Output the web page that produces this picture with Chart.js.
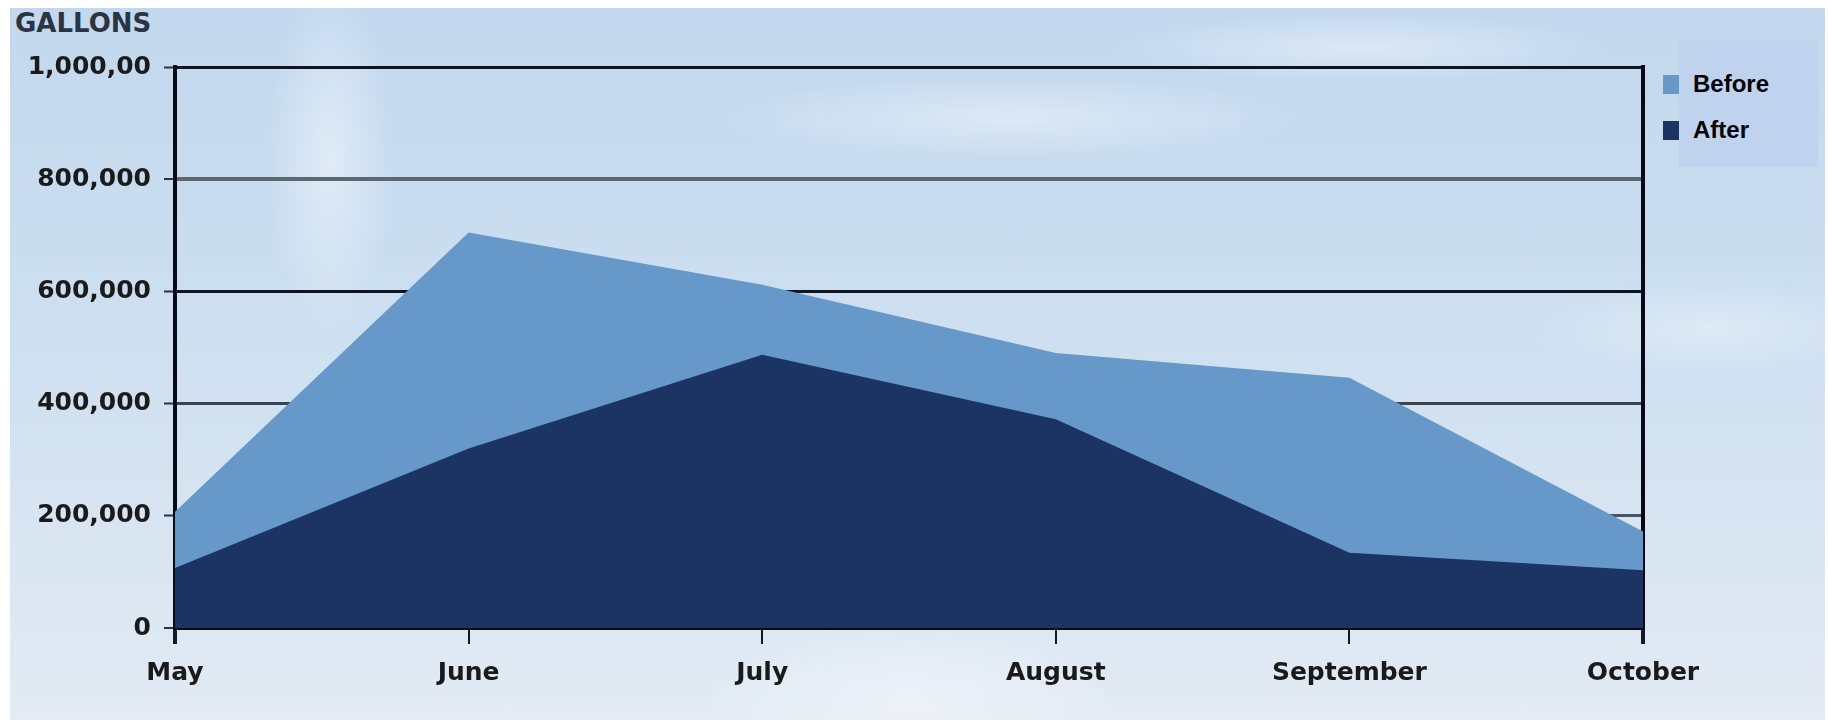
<!DOCTYPE html>
<html>
<head>
<meta charset="utf-8">
<script src="https://cdn.jsdelivr.net/npm/chart.js"></script>
<style>
  html, body { margin: 0; padding: 0; background: #fff; }
  body { width: 1828px; height: 722px; position: relative; overflow: hidden; }
  #frame {
    position: absolute; left: 10px; top: 8px; width: 1815px; height: 712px;
    background:
      radial-gradient(ellipse 90px 260px at 320px 150px, rgba(255,255,255,0.45), rgba(255,255,255,0) 70%),
      radial-gradient(ellipse 420px 60px at 1000px 110px, rgba(255,255,255,0.40), rgba(255,255,255,0) 70%),
      radial-gradient(ellipse 360px 50px at 1350px 40px, rgba(255,255,255,0.40), rgba(255,255,255,0) 70%),
      radial-gradient(ellipse 260px 70px at 1700px 320px, rgba(255,255,255,0.35), rgba(255,255,255,0) 70%),
      radial-gradient(ellipse 300px 120px at 900px 690px, rgba(255,255,255,0.35), rgba(255,255,255,0) 70%),
      linear-gradient(180deg, #c3d8ee 0%, #cddff0 45%, #dbe6f2 80%, #e3ebf4 100%);
  }
  #title {
    position: absolute; left: 15px; top: 8px;
    font: bold 26px "DejaVu Sans", sans-serif; color: #2b3442;
  }
  #legend {
    position: absolute; left: 1679px; top: 40px; width: 139px; height: 127px;
    background: #bfd3ee;
  }
  .item { position: absolute; left: -16px; height: 20px; display: flex; align-items: center; }
  .item span.sw { width: 16px; height: 19px; display: inline-block; }
  .item span.tx { margin-left: 14px; font: bold 24px "Liberation Sans", Arial, sans-serif; color: #000; }
  #wrap { position: absolute; left: 0; top: 0; width: 1828px; height: 722px; }
</style>
</head>
<body>
<div id="frame"></div>
<div id="title">GALLONS</div>
<div id="legend"></div>
<div id="wrap"><canvas id="chart"></canvas></div>
<script>
// ── DATA ──
const months = ['May', 'June', 'July', 'August', 'September', 'October'];
const before = [207000, 705000, 612000, 490000, 446000, 172000];
const after  = [107000, 320000, 487000, 372000, 134000, 103000];
const yTickLabels = ['0', '200,000', '400,000', '600,000', '800,000', '1,000,00'];

const seriesNames  = ['Before', 'After'];
const seriesColors = ['#6699c9', '#1b3464'];

// grid line look per y tick (0 .. 1,000,000)
const gridColors = ['#0a1220', '#4a5562', '#3a4452', '#0d1522', '#5d6772', '#0d1522'];
const gridWidths = [2, 3, 3, 3, 4, 3];

const tickFont = { family: "'DejaVu Sans', sans-serif", size: 25, weight: 'bold' };

// ── LEGEND (html) ──
const legendEl = document.getElementById('legend');
seriesNames.forEach((name, i) => {
  const d = document.createElement('div');
  d.className = 'item';
  d.style.top = (i === 0 ? 34 : 80) + 'px';
  d.innerHTML = '<span class="sw" style="background:' + seriesColors[i] + '"></span><span class="tx">' + name + '</span>';
  legendEl.appendChild(d);
});

// ── CHART ──
new Chart(document.getElementById('chart').getContext('2d'), {
  type: 'line',
  data: {
    labels: months,
    datasets: [
      { label: seriesNames[0], data: before, order: 1, fill: 'origin',
        backgroundColor: seriesColors[0], borderColor: seriesColors[0], borderWidth: 0,
        pointRadius: 0, tension: 0 },
      { label: seriesNames[1], data: after, order: 0, fill: 'origin',
        backgroundColor: seriesColors[1], borderColor: seriesColors[1], borderWidth: 0,
        pointRadius: 0, tension: 0 }
    ]
  },
  options: {
    animation: false,
    responsive: true,
    maintainAspectRatio: false,
    layout: { padding: { top: 67, right: 185, left: 0, bottom: 0 } },
    plugins: { legend: { display: false }, tooltip: { enabled: false } },
    scales: {
      x: {
        offset: false,
        grid: {
          drawOnChartArea: false, drawTicks: true, tickLength: 16,
          color: '#111a26',
          lineWidth: c => (c.index === 0 || c.index === months.length - 1) ? 4 : 2
        },
        border: { color: '#050a14', width: 4 },
        ticks: { color: '#1a1a1a', font: tickFont, padding: 14, maxRotation: 0, autoSkip: false },
        afterFit: s => { s.height = 94; }
      },
      y: {
        min: 0, max: 1000000,
        grid: {
          color: c => gridColors[c.index] || '#000',
          lineWidth: c => gridWidths[c.index] || 2,
          tickColor: '#2a3340', tickLength: 11, tickWidth: 2
        },
        border: { color: '#050a14', width: 4 },
        ticks: {
          stepSize: 200000, color: '#1a1a1a', font: tickFont, padding: 13,
          callback: (v, i) => yTickLabels[i]
        },
        afterFit: s => { s.width = 175; }
      },
      y2: {
        position: 'right', min: 0, max: 1000000,
        grid: { drawOnChartArea: false, drawTicks: false },
        ticks: { display: false },
        border: { color: '#050a14', width: 4 },
        afterFit: s => { s.width = 0; }
      }
    }
  }
});
</script>
</body>
</html>
